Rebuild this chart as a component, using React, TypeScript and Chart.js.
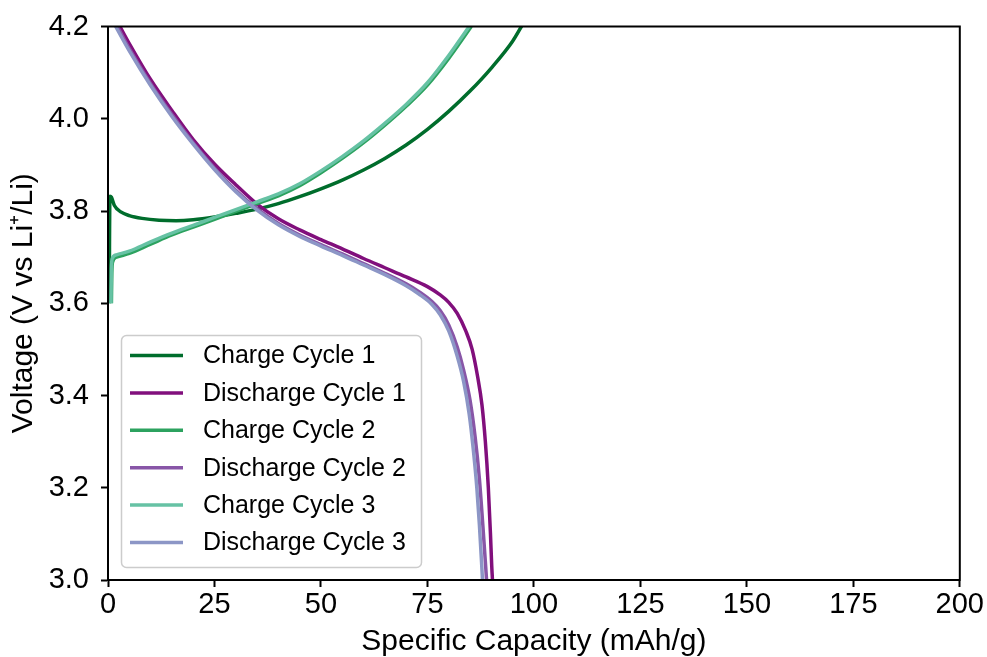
import React, { useEffect, useRef } from "react";
import { Chart, registerables } from "chart.js";

Chart.register(...registerables);

const FONT = '"Liberation Sans", Arial, Helvetica, sans-serif';

// Series labels and colours
const seriesLabels = [
  "Charge Cycle 1",
  "Discharge Cycle 1",
  "Charge Cycle 2",
  "Discharge Cycle 2",
  "Charge Cycle 3",
  "Discharge Cycle 3",
];
const seriesColors = ["#006d2c", "#810f7c", "#2ca25f", "#8856a7", "#66c2a4", "#8c96c6"];

// Charge Cycle 1
const charge1Cap = [0.3, 0.35, 0.45, 0.8, 1.5, 3, 5, 8, 12, 16, 20, 25, 30, 35, 40, 45, 50, 55, 60, 65, 70, 75, 80, 85, 90, 95, 97.2];
const charge1V = [3.6, 3.72, 3.832, 3.83, 3.812, 3.798, 3.79, 3.784, 3.78, 3.779, 3.781, 3.787, 3.795, 3.804, 3.816, 3.831, 3.848, 3.867, 3.889, 3.914, 3.943, 3.977, 4.016, 4.06, 4.11, 4.168, 4.202];

// Discharge Cycle 1
const discharge1Cap = [2.8, 5, 10, 15, 20, 25, 30, 35, 40, 45, 50, 55, 60, 65, 70, 75, 78, 80, 82, 84, 85.5, 86.8, 87.8, 88.6, 89.3, 89.8, 90.1, 90.4];
const discharge1V = [4.2, 4.163, 4.085, 4.018, 3.955, 3.902, 3.857, 3.815, 3.783, 3.759, 3.738, 3.718, 3.697, 3.677, 3.657, 3.636, 3.618, 3.602, 3.578, 3.54, 3.5, 3.44, 3.38, 3.3, 3.2, 3.1, 3.03, 2.98];

// Charge Cycle 2
const charge2Cap = [0.8, 0.9, 1.1, 2, 5, 10, 15, 20, 25, 30, 35, 40, 45, 50, 55, 60, 65, 70, 75, 80, 85.3];
const charge2V = [3.6, 3.665, 3.69, 3.7, 3.708, 3.728, 3.748, 3.765, 3.782, 3.799, 3.816, 3.833, 3.855, 3.883, 3.914, 3.948, 3.986, 4.027, 4.073, 4.131, 4.2];

// Discharge Cycle 2
const discharge2Cap = [2.2, 5, 10, 15, 20, 25, 30, 35, 40, 45, 50, 55, 60, 65, 70, 73, 76, 78, 80, 82, 83.5, 85, 86.2, 87.2, 88, 88.6, 89.1];
const discharge2V = [4.2, 4.152, 4.076, 4.009, 3.948, 3.893, 3.845, 3.805, 3.773, 3.748, 3.727, 3.707, 3.686, 3.665, 3.642, 3.625, 3.604, 3.584, 3.553, 3.505, 3.455, 3.39, 3.31, 3.22, 3.12, 3.04, 2.97];

// Charge Cycle 3
const charge3Cap = [0.7, 0.8, 1.0, 2, 5, 10, 15, 20, 25, 30, 35, 40, 45, 50, 55, 60, 65, 70, 75, 80, 84.8];
const charge3V = [3.6, 3.675, 3.697, 3.705, 3.713, 3.733, 3.752, 3.769, 3.786, 3.803, 3.82, 3.837, 3.859, 3.887, 3.918, 3.952, 3.99, 4.031, 4.078, 4.137, 4.2];

// Discharge Cycle 3
const discharge3Cap = [1.8, 5, 10, 15, 20, 25, 30, 35, 40, 45, 50, 55, 60, 65, 70, 73, 76, 78, 80, 82, 83.5, 84.8, 85.8, 86.6, 87.2, 87.7, 88.1];
const discharge3V = [4.2, 4.147, 4.072, 4.005, 3.945, 3.89, 3.842, 3.802, 3.77, 3.745, 3.724, 3.704, 3.683, 3.662, 3.638, 3.62, 3.598, 3.575, 3.54, 3.485, 3.43, 3.36, 3.28, 3.2, 3.12, 3.04, 2.97];

const seriesCaps = [charge1Cap, discharge1Cap, charge2Cap, discharge2Cap, charge3Cap, discharge3Cap];
const seriesVolts = [charge1V, discharge1V, charge2V, discharge2V, charge3V, discharge3V];

// Axis settings
const xMin = 0, xMax = 200, xStep = 25;
const yMin = 3.0, yMax = 4.2, yStep = 0.2;
const xTitle = "Specific Capacity (mAh/g)";
const yTitle = "Voltage (V vs Li\u207A/Li)";

const framePlugin = {
  id: "frame",
  afterDraw(chart: any) {
    const { ctx, chartArea } = chart;
    ctx.save();
    ctx.strokeStyle = "#000";
    ctx.lineWidth = 2;
    ctx.strokeRect(chartArea.left, chartArea.top, chartArea.right - chartArea.left, chartArea.bottom - chartArea.top);
    ctx.restore();
  },
};

const legendPlugin = {
  id: "insideLegend",
  afterDraw(chart: any) {
    const ctx = chart.ctx;
    ctx.save();
    const x0 = 121.5, y0 = 335.5, w = 300, h = 232;
    ctx.beginPath();
    (ctx as any).roundRect(x0, y0, w, h, 5);
    ctx.fillStyle = "rgba(255,255,255,0.8)";
    ctx.fill();
    ctx.strokeStyle = "#cccccc";
    ctx.lineWidth = 1.5;
    ctx.stroke();
    chart.data.datasets.forEach((ds: any, i: number) => {
      const y = 355.5 + i * 37.4;
      ctx.beginPath();
      ctx.strokeStyle = ds.borderColor;
      ctx.lineWidth = 3.5;
      ctx.moveTo(130, y);
      ctx.lineTo(183, y);
      ctx.stroke();
      ctx.fillStyle = "#000";
      ctx.font = `25px ${FONT}`;
      ctx.textBaseline = "middle";
      ctx.textAlign = "left";
      ctx.fillText(ds.label, 203, y + 1);
    });
    ctx.restore();
  },
};

export default function App() {
  const ref = useRef<HTMLCanvasElement | null>(null);
  useEffect(() => {
    if (!ref.current) return;
    const datasets = seriesLabels.map((label, i) => ({
      label,
      data: seriesCaps[i].map((c, j) => ({ x: c, y: seriesVolts[i][j] })),
      borderColor: seriesColors[i],
      backgroundColor: seriesColors[i],
      borderWidth: 3.5,
      pointRadius: 0,
      fill: false,
      cubicInterpolationMode: "monotone" as const,
      order: seriesLabels.length - i,
    }));
    const chart = new Chart(ref.current, {
      type: "line",
      data: { datasets },
      options: {
        animation: false,
        responsive: false,
        devicePixelRatio: 1,
        layout: { padding: { top: 25, right: 26, left: 0, bottom: 0 } },
        plugins: { legend: { display: false }, tooltip: { enabled: false } },
        scales: {
          x: {
            type: "linear",
            min: xMin,
            max: xMax,
            afterFit: (s: any) => { s.height = 77; },
            ticks: { stepSize: xStep, color: "#000", font: { family: FONT, size: 29, lineHeight: 1 }, padding: 3, maxRotation: 0 },
            grid: { drawOnChartArea: false, drawTicks: true, tickLength: 7, tickWidth: 2, tickColor: "#000" },
            border: { display: true, color: "#000", width: 2 },
            title: { display: true, text: xTitle, color: "#000", font: { family: FONT, size: 30, lineHeight: 1 }, padding: { top: 0, bottom: 0 } },
          },
          y: {
            type: "linear",
            min: yMin,
            max: yMax,
            afterFit: (s: any) => { s.width = 108; },
            ticks: { stepSize: yStep, color: "#000", font: { family: FONT, size: 29, lineHeight: 1 }, padding: 12, callback: (v: any) => Number(v).toFixed(1) },
            grid: { drawOnChartArea: false, drawTicks: true, tickLength: 7, tickWidth: 2, tickColor: "#000" },
            border: { display: true, color: "#000", width: 2 },
            title: { display: true, text: yTitle, color: "#000", font: { family: FONT, size: 30, lineHeight: 1 }, padding: { top: 9, bottom: 0 } },
          },
        },
      },
      plugins: [legendPlugin, framePlugin],
    });
    return () => chart.destroy();
  }, []);
  return (
    <div style={{ position: "fixed", left: 0, top: 0, width: 987, height: 657, background: "#fff" }}>
      <canvas ref={ref} width={987} height={657} style={{ width: 987, height: 657 }} />
    </div>
  );
}
